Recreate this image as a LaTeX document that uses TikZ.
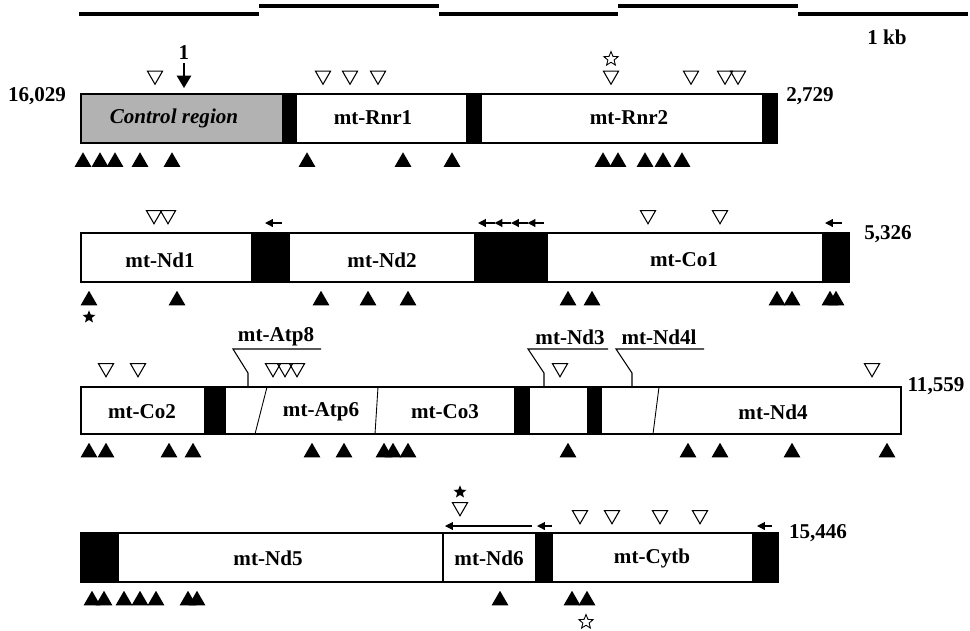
\documentclass[tikz,border=0pt]{standalone}
\usepackage{fontspec}
\setmainfont{Liberation Serif}
\usetikzlibrary{shapes.geometric,arrows.meta}
\begin{document}
\begin{tikzpicture}[x=0.02cm, y=-0.02cm, line width=0.9pt,
  lbl/.style={font=\fontsize{12}{14}\selectfont\bfseries},
  up/.style={regular polygon, regular polygon sides=3, fill=black, inner sep=0pt, minimum size=0.39cm},
  dn/.style={regular polygon, regular polygon sides=3, shape border rotate=180, draw, line width=0.6pt, inner sep=0pt, minimum size=0.35cm},
  blk/.style={fill=black},
  larr/.style={-{Triangle[length=4.5pt,width=4.5pt]}, line width=0.7pt},
  sfill/.style={star, star points=5, star point ratio=2.3, fill=black, inner sep=0pt, minimum size=0.27cm},
  sopen/.style={star, star points=5, star point ratio=2.3, draw, line width=0.5pt, inner sep=0pt, minimum size=0.3cm}]
  \useasboundingbox (0,0) rectangle (970,630);
  % scale bar
  \draw[line width=1.8pt] (79,14) -- (259,14) (259,6) -- (439,6) (439,14) -- (618,14)
    (618,6) -- (798,6) (798,14) -- (968,14);
  \node[lbl] (kb) at (887,37) {1 kb};
  % row 1
  \def\ta{94}\def\tb{143}
  \draw[fill=gray!60] (81,\ta) rectangle (283,\tb);
  \draw[blk] (283,\ta) rectangle (296,\tb);
  \draw (296,\ta) rectangle (467,\tb);
  \draw[blk] (467,\ta) rectangle (480,\tb);
  \draw (481,\ta) rectangle (763,\tb);
  \draw[blk] (763,\ta) rectangle (777,\tb);
  \node[lbl] (p1) at (37,96) {16,029};
  \node[lbl] (p2) at (810,96) {2,729};
  \node[lbl, font=\fontsize{12}{14}\selectfont\bfseries\itshape] (cr) at (174,118) {Control region};
  \node[lbl] (rnr1) at (373,118) {mt-Rnr1};
  \node[lbl] (rnr2) at (629,118) {mt-Rnr2};
  \node[lbl] (one) at (184,53) {1};
  \draw[-{Triangle[length=7pt,width=8pt]}, line width=1.3pt] (184,63) -- (184,88);
  \foreach \x in {155,323,350,378,611,691,725,738} \node[dn] at (\x,75.5) {};
  \node[sopen] (s1) at (611,59) {};
  \foreach \x in {83,100,115,140,172,307,403,452,603,618,645,663,682} \node[up] at (\x,162) {};
  % row 2
  \def\ta{233}\def\tb{282}
  \draw (81,\ta) rectangle (252,\tb);
  \draw[blk] (252,\ta) rectangle (289,\tb);
  \draw (289,\ta) rectangle (475,\tb);
  \draw[blk] (475,\ta) rectangle (547,\tb);
  \draw (547,\ta) rectangle (823,\tb);
  \draw[blk] (823,\ta) rectangle (849,\tb);
  \node[lbl] (p3) at (888,234) {5,326};
  \node[lbl] (nd1) at (160,260) {mt-Nd1};
  \node[lbl] (nd2) at (382,260) {mt-Nd2};
  \node[lbl] (co1) at (684,260) {mt-Co1};
  \foreach \x in {154,168,648,720} \node[dn] at (\x,215) {};
  \foreach \x in {265,478,494.5,511,527.5,825} \draw[larr] (\x+16.5,223) -- (\x,223);
  \foreach \x in {89,177,321,368,408,568,592,777,792,830,836} \node[up] at (\x,300.5) {};
  \node[sfill] (s2) at (89,317) {};
  % row 3
  \def\ta{387}\def\tb{434}
  \draw (81,\ta) rectangle (901,\tb);
  \draw[blk] (205,\ta) rectangle (225,\tb);
  \draw[blk] (515,\ta) rectangle (529,\tb);
  \draw[blk] (588,\ta) rectangle (601,\tb);
  \draw[line width=0.5pt] (267,\ta) -- (255,\tb) (378,\ta) -- (375,\tb) (659,\ta) -- (653,\tb);
  \node[lbl] (p4) at (936,386) {11,559};
  \node[lbl] (co2) at (142,412) {mt-Co2};
  \node[lbl] (atp6) at (321,412) {mt-Atp6};
  \node[lbl] (co3) at (445,412) {mt-Co3};
  \node[lbl] (nd4) at (773,412) {mt-Nd4};
  \node[lbl] (atp8) at (276,337) {mt-Atp8};
  \node[lbl] (nd3) at (570,337) {mt-Nd3};
  \node[lbl] (nd4l) at (659,337) {mt-Nd4l};
  \draw[line width=0.6pt] (321,349) -- (233,349) -- (248,373) -- (248,\ta);
  \draw[line width=0.6pt] (608,349) -- (528,349) -- (544,373) -- (544,\ta);
  \draw[line width=0.6pt] (704,349) -- (616,349) -- (632,373) -- (632,\ta);
  \foreach \x in {106,138,273,285,297,560,872} \node[dn] at (\x,368) {};
  \foreach \x in {89,106,169,193,312,344,384,393,408,568,688,720,792,887} \node[up] at (\x,452.5) {};
  % row 4
  \def\ta{533}\def\tb{582}
  \draw[blk] (81,\ta) rectangle (118,\tb);
  \draw (118,\ta) rectangle (443,\tb);
  \draw (443,\ta) rectangle (536,\tb);
  \draw[blk] (536,\ta) rectangle (552,\tb);
  \draw (552,\ta) rectangle (753,\tb);
  \draw[blk] (753,\ta) rectangle (778,\tb);
  \node[lbl] (p5) at (818,533) {15,446};
  \node[lbl] (nd5) at (268,558) {mt-Nd5};
  \node[lbl] (nd6) at (489,558) {mt-Nd6};
  \node[lbl] (cytb) at (652,558) {mt-Cytb};
  \draw[larr, line width=0.6pt] (532,526) -- (445,526);
  \foreach \x in {537,757} \draw[larr] (\x+15,526) -- (\x,526);
  \node[dn] at (460,507) {};
  \node[sfill] (s3) at (460,492) {};
  \foreach \x in {580,612,660,700} \node[dn] at (\x,515) {};
  \foreach \x in {92,104,124,140,156,188,197,500,572,587} \node[up] at (\x,600.5) {};
  \node[sopen] (s4) at (586,622) {};
\end{tikzpicture}
\end{document}
